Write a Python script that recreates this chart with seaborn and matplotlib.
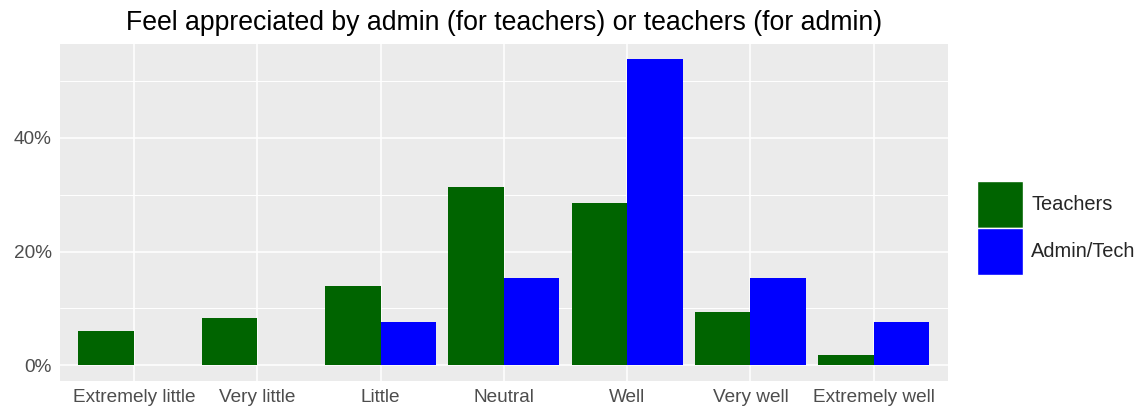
import matplotlib
matplotlib.use("Agg")
import matplotlib.pyplot as plt
import matplotlib.patches as mpatches
import pandas as pd
import seaborn as sns
from matplotlib.ticker import MultipleLocator, FuncFormatter

# Du lieu doc tu hinh (phan tram)
categories = ["Extremely little", "Very little", "Little", "Neutral",
              "Well", "Very well", "Extremely well"]
groups = ["Teachers", "Admin/Tech"]
teachers_pct = [6.0, 8.3, 13.9, 31.3, 28.5, 9.4, 1.8]
admin_pct = [0.0, 0.0, 7.7, 15.4, 53.8, 15.4, 7.7]
colors = {"Teachers": "#006400", "Admin/Tech": "#0000FF"}

df = pd.DataFrame({
    "category": categories * 2,
    "group": ["Teachers"] * len(categories) + ["Admin/Tech"] * len(categories),
    "pct": teachers_pct + admin_pct,
})

sns.set_theme(style="darkgrid", rc={
    "axes.facecolor": "#EBEBEB",
    "grid.color": "white",
    "axes.edgecolor": "#EBEBEB",
})
plt.rcParams["font.family"] = ["Liberation Sans", "DejaVu Sans"]

fig = plt.figure(figsize=(11.47, 4.16), dpi=100)
ax = fig.add_axes([0.0523, 0.085, 0.774, 0.809])

sns.barplot(data=df, x="category", y="pct", hue="group", order=categories,
            hue_order=groups, palette=colors, width=0.9, gap=0,
            saturation=1, linewidth=0, ax=ax, legend=False)

ax.set_xlim(-0.6, 6.6)
ax.set_ylim(-2.7, 56.5)
ax.yaxis.set_major_locator(MultipleLocator(20))
ax.yaxis.set_minor_locator(MultipleLocator(10))
ax.yaxis.set_major_formatter(FuncFormatter(lambda v, p: f"{v:.0f}%"))
ax.grid(which="major", color="white", linewidth=1.1)
ax.grid(which="minor", axis="y", color="white", linewidth=0.7)
ax.set_axisbelow(True)
for s in ax.spines.values():
    s.set_visible(False)

ax.tick_params(axis="both", which="major", length=3.5, width=0.8,
               color="#333333", labelcolor="#4D4D4D", labelsize=13.7, pad=2.5)
ax.tick_params(axis="y", which="minor", length=0)
ax.set_xlabel("")
ax.set_ylabel("")
ax.set_title("Feel appreciated by admin (for teachers) or teachers (for admin)",
             fontsize=19.2, color="black", pad=10)

handles = [mpatches.Patch(facecolor=colors[g], edgecolor="white",
                          linewidth=1, label=g)
           for g in groups]
fig.legend(handles=handles, loc="center left", bbox_to_anchor=(0.852, 0.452),
           frameon=False, fontsize=14.4, handlelength=2.3, handleheight=3.24,
           handletextpad=0.4, labelspacing=0.0, borderaxespad=0,
           borderpad=0)

fig.savefig("out.png", dpi=100, facecolor="white")
